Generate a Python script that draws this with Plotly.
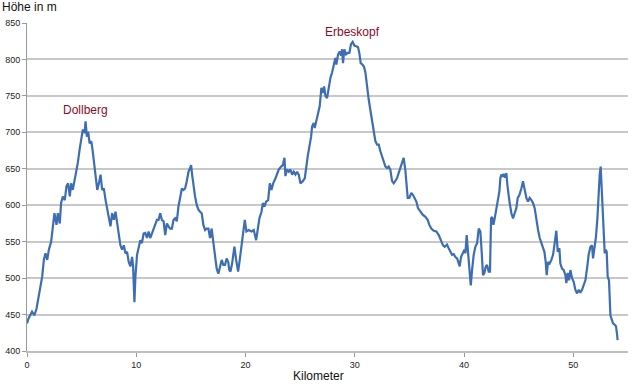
import plotly.graph_objects as go

km = [0.0, 0.15, 0.46, 0.68, 0.87, 1.08, 1.23, 1.39, 1.54, 1.69, 1.85, 2.0, 2.21, 2.39, 2.51, 2.7, 2.82, 3.0,
      3.12, 3.28, 3.46, 3.61, 3.76, 3.92, 4.04, 4.19, 4.34, 4.5, 4.65, 4.81, 4.96, 5.11, 5.27, 5.36, 5.48, 5.6,
      5.73, 5.88, 6.0, 6.12, 6.28, 6.43, 6.58, 6.73, 6.88, 7.03, 7.19, 7.34, 7.49, 7.64, 7.79, 7.95, 8.1, 8.25,
      8.4, 8.55, 8.7, 8.86, 9.01, 9.16, 9.31, 9.46, 9.62, 9.71, 9.83, 9.92, 10.07, 10.22, 10.37, 10.52, 10.67,
      10.83, 10.98, 11.13, 11.28, 11.43, 11.58, 11.74, 11.89, 12.04, 12.19, 12.34, 12.5, 12.65, 12.8, 12.95,
      13.1, 13.26, 13.41, 13.56, 13.71, 13.86, 14.02, 14.17, 14.32, 14.47, 14.62, 14.78, 14.93, 15.02, 15.11,
      15.23, 15.38, 15.54, 15.69, 15.84, 15.99, 16.14, 16.3, 16.45, 16.6, 16.75, 16.9, 17.06, 17.21, 17.36,
      17.51, 17.66, 17.82, 17.97, 18.12, 18.27, 18.42, 18.51,
      18.62, 18.77, 18.98, 19.14, 19.32, 19.47, 19.69, 19.84, 19.93, 20.08, 20.29, 20.54, 20.75, 20.97, 21.12,
      21.27, 21.46, 21.58, 21.73, 21.88, 22.07, 22.22, 22.37, 22.53, 22.74, 22.89, 23.04, 23.26, 23.41, 23.56,
      23.65, 23.8, 23.96, 24.11, 24.26, 24.41, 24.57, 24.72, 24.87, 25.02, 25.24, 25.42, 25.54, 25.69, 25.85,
      26.0, 26.09, 26.24, 26.33, 26.49, 26.64, 26.79, 26.94, 27.07, 27.19, 27.31, 27.46, 27.61, 27.77, 27.92,
      28.07, 28.22, 28.31, 28.47, 28.62, 28.74, 28.83, 28.92, 29.04, 29.2, 29.35, 29.5, 29.65, 29.8, 29.96,
      30.14, 30.29, 30.41, 30.54, 30.69, 30.84, 30.97, 31.12, 31.27, 31.42, 31.58, 31.73, 31.88, 32.04, 32.19,
      32.34, 32.49, 32.64, 32.8, 32.95, 33.1, 33.25, 33.41, 33.56, 33.71, 33.86, 34.01, 34.17, 34.32, 34.47,
      34.62, 34.72, 34.84, 34.99, 35.17, 35.33, 35.48, 35.63, 35.78, 35.99,
      36.21, 36.46, 36.67, 36.82, 37.0, 37.22, 37.46, 37.68, 37.89, 38.07, 38.23, 38.44, 38.59, 38.75, 38.9,
      39.05, 39.2, 39.36, 39.51, 39.6, 39.72, 39.87, 40.03, 40.12, 40.24, 40.36, 40.48, 40.61, 40.73, 40.88,
      41.03, 41.19, 41.34, 41.49, 41.61, 41.73, 41.86, 41.98, 42.1, 42.25, 42.37, 42.47, 42.56, 42.68, 42.8,
      42.95, 43.11, 43.23, 43.32, 43.41, 43.53, 43.63, 43.75, 43.87, 43.96, 44.05, 44.17, 44.33, 44.48, 44.63,
      44.78, 44.91, 45.06, 45.24, 45.39, 45.55, 45.7, 45.85, 46.0, 46.16, 46.31, 46.46, 46.61, 46.77, 46.92,
      47.07, 47.19, 47.35, 47.47, 47.56, 47.68, 47.83, 47.99, 48.14, 48.29, 48.44, 48.57, 48.72, 48.81, 48.96,
      49.12, 49.27, 49.36, 49.48, 49.6, 49.73, 49.88, 50.03, 50.18, 50.34, 50.49, 50.64, 50.79, 50.95, 51.1,
      51.25, 51.4, 51.56, 51.71, 51.8, 51.92, 52.07, 52.2, 52.32, 52.41, 52.5, 52.59, 52.68, 52.78, 52.87,
      52.96, 53.05, 53.14, 53.26, 53.39, 53.51, 53.63, 53.78, 53.9, 53.99, 54.05]

hoehe = [438, 445, 454, 449, 458, 477, 490, 502, 525, 534, 525, 539, 550, 575, 589, 573, 589, 575,
         603, 612, 607, 626, 630, 612, 630, 621, 633, 644, 658, 676, 694, 704, 699, 715, 694, 701,
         685, 688, 676, 662, 644, 621, 630, 642, 621, 623, 607, 596, 584, 571, 589, 580, 591, 575,
         559, 545, 539, 545, 534, 536, 522, 516, 529, 516, 467, 502, 532, 543, 552, 548, 561,
         562, 555, 564, 555, 561, 568, 573, 580, 580, 589, 580, 578, 559, 575, 571,
         568, 568, 580, 582, 578, 598, 612, 623, 621, 623, 633, 646, 651, 655, 642,
         628, 612, 600, 594, 591, 589, 573, 566, 568, 568, 555, 568, 548, 529, 513,
         506, 516, 525, 518, 518, 527, 522, 511,
         509, 520, 543, 525, 509, 525, 548, 566, 580, 564, 566, 564, 566, 552, 571,
         582, 591, 603, 598, 605, 607, 630, 621, 630, 637, 644, 649, 653, 655, 665,
         640, 649, 646, 649, 642, 646, 642, 646, 642, 630, 633, 637, 653, 667, 681,
         694, 708, 713, 706, 717, 729, 736, 761, 754, 763, 750, 747, 763, 775, 782,
         795, 802, 793, 807, 811, 805, 814, 795, 814, 807, 809, 809, 821, 824, 819,
         818, 817, 809, 795, 793, 790, 782, 759, 745, 731, 717, 704, 688, 683, 683,
         674, 667, 660, 653, 651, 653, 649, 633, 630, 633, 637, 644, 651, 660, 665,
         649, 630, 610, 610, 617, 614, 610, 605, 596, 591,
         587, 584, 580, 573, 568, 565, 564, 559, 552, 545, 543, 546, 541, 536, 532,
         533, 529, 527, 518, 516, 529, 534, 539, 534, 559, 536, 506, 490, 511, 532,
         543, 548, 568, 564, 536, 504, 507, 516, 518, 509, 509, 582, 584, 573, 582,
         596, 610, 619, 637, 642, 639, 643, 638, 644, 628, 614, 603, 589, 582, 589,
         596, 610, 614, 623, 633, 621, 610, 605, 610, 607, 603, 596, 580, 566, 555,
         548, 545, 536, 522, 504, 522, 520, 525, 532, 548, 565, 536, 541, 520, 513,
         511, 504, 493, 507, 497, 511, 500, 495, 484, 479, 484, 480, 484, 490, 497,
         513, 532, 543, 545, 527, 541, 557, 582, 619, 642, 653, 623, 587, 559, 534,
         539, 536, 502, 497, 449, 442, 438, 436, 434, 424, 415]

x_ticks = [0, 10, 20, 30, 40, 50]
y_ticks = [400, 450, 500, 550, 600, 650, 700, 750, 800, 850]

peaks = ["Dollberg", "Erbeskopf"]
peak_km = [5.35, 29.8]
peak_label_m = [731, 838]

fig = go.Figure()
fig.add_trace(go.Scatter(x=km, y=hoehe, mode="lines",
                         line=dict(color="#3d6db3", width=2.2), hoverinfo="skip"))

fig.update_layout(
    width=640, height=389,
    margin=dict(l=27, r=12, t=23, b=38, autoexpand=False),
    paper_bgcolor="white", plot_bgcolor="white",
    showlegend=False,
    font=dict(family="Liberation Sans, Arial, sans-serif", color="#222"),
    xaxis=dict(range=[0, 55], tickvals=x_ticks, showgrid=False, zeroline=False,
               automargin=False,
               showline=True, linecolor="#bfbfbf", linewidth=2,
               ticks="outside", ticklen=4, tickcolor="#9a9a9a",
               tickfont=dict(size=9, color="#222")),
    yaxis=dict(range=[400, 850], tickvals=y_ticks, showgrid=True,
               automargin=False,
               gridcolor="#c8c8c8", gridwidth=1.6, zeroline=False,
               showline=True, linecolor="#9a9a9a", linewidth=1,
               ticks="outside", ticklen=4, tickcolor="#9a9a9a",
               tickfont=dict(size=9, color="#222")),
)

for name, xk, ym in zip(peaks, peak_km, peak_label_m):
    fig.add_annotation(x=xk, y=ym, xref="x", yref="y", text=name, showarrow=False,
                       font=dict(size=12, color="#8b0a2a", family="Liberation Sans, Arial"))

fig.add_annotation(x=-27 / 601, y=(351 - 7) / 328, xref="paper", yref="paper",
                   text="Höhe in m", showarrow=False, xanchor="left", yanchor="middle",
                   font=dict(size=12, color="#111"))
fig.add_annotation(x=0.485, y=(351 - 376) / 328, xref="paper", yref="paper",
                   text="Kilometer", showarrow=False, xanchor="center", yanchor="middle",
                   font=dict(size=12, color="#111"))

fig.write_html("out.html", config={"displayModeBar": False},
               post_script="document.body.style.margin='0px';")
